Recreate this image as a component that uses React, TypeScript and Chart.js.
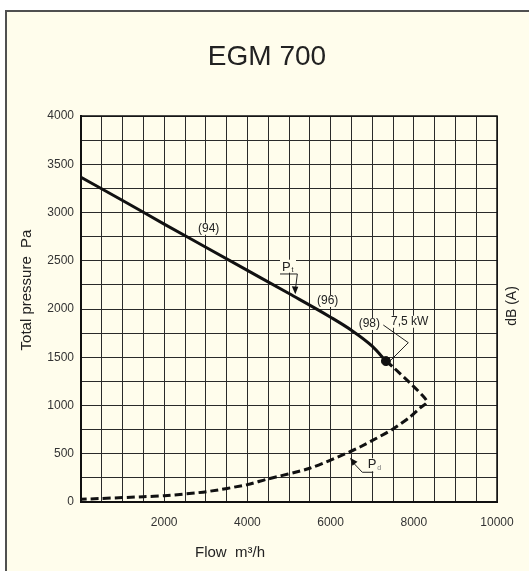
import React, { useEffect, useRef } from "react";
import { Chart, registerables } from "chart.js";

Chart.register(...registerables);

const TITLE = "EGM 700";
const X_TITLE = "Flow  m³/h";
const Y_TITLE = "Total pressure  Pa";
const Y2_TITLE = "dB (A)";

// Total pressure curve P_t (flow m3/h, pressure Pa)
const ptFlow = [0, 1000, 2000, 3000, 4000, 5000, 6000, 6500, 7000, 7330];
const ptPressure = [3365, 3125, 2880, 2640, 2400, 2160, 1915, 1780, 1615, 1460];

// Dynamic pressure curve P_d (drawn in order, turns back at the tip)
const pdFlow = [7330, 7500, 7909, 8197, 8317, 8149, 7909, 7500, 7115, 6707, 6466, 5500, 4460, 4000, 3020, 2010, 1500, 0];
const pdPressure = [1460, 1399, 1233, 1110, 1036, 974, 881, 756, 663, 570, 521, 350, 235, 180, 107, 65, 55, 28];

// Motor limit point (7,5 kW)
const motorPoint = { x: 7330, y: 1460 };

// Sound level labels along P_t
const soundLabels = ["(94)", "(96)", "(98)"];
const soundFlow = [3069, 5930, 6931];
const soundPressure = [2832, 2083, 1845];
const motorLabel = "7,5 kW";

const FONT = '"Liberation Sans", Arial, sans-serif';
const TEXT = "#222";
const BG = "#FFFDEC";

const annotations = {
  id: "annotations",
  afterDatasetsDraw(chart: any) {
    const { ctx, scales } = chart;
    const X = (v: number) => scales.x.getPixelForValue(v);
    const Y = (v: number) => scales.y.getPixelForValue(v);
    ctx.save();
    ctx.fillStyle = TEXT;
    ctx.strokeStyle = "#222";
    ctx.font = `12px ${FONT}`;
    ctx.textAlign = "center";
    ctx.textBaseline = "middle";
    soundLabels.forEach((t, i) => {
      const x = X(soundFlow[i]);
      const y = Y(soundPressure[i]);
      const w = ctx.measureText(t).width;
      ctx.fillStyle = BG;
      ctx.fillRect(x - w / 2 - 1, y - 6, w + 2, 12);
      ctx.fillStyle = TEXT;
      ctx.fillText(t, x, y);
    });
    // 7,5 kW
    ctx.textAlign = "left";
    {
      const x = X(7452), y = Y(1868);
      const w = ctx.measureText(motorLabel).width;
      ctx.fillStyle = BG;
      ctx.fillRect(x - 1, y - 6, w + 2, 12);
      ctx.fillStyle = TEXT;
      ctx.fillText(motorLabel, x, y);
    }
    // bracket
    ctx.lineWidth = 1;
    ctx.beginPath();
    ctx.moveTo(X(7267), Y(1834));
    ctx.lineTo(X(7868), Y(1651));
    ctx.lineTo(X(7428), Y(1461));
    ctx.stroke();

    // P_t label
    ctx.textBaseline = "alphabetic";
    {
      const px = X(4832), py = Y(2397);
      ctx.fillStyle = BG;
      ctx.fillRect(px - 2, py - 11, 16, 13);
      ctx.fillStyle = TEXT;
      ctx.font = `13px ${FONT}`;
      ctx.fillText("P", px, py);
      ctx.font = `7px ${FONT}`;
      ctx.fillText("t", px + 9.5, py + 1);
      ctx.beginPath();
      ctx.moveTo(X(4784), Y(2363));
      ctx.lineTo(X(5200), Y(2363));
      ctx.lineTo(X(5160), Y(2220));
      ctx.stroke();
      const tx = X(5151), ty = Y(2152);
      ctx.beginPath();
      ctx.moveTo(tx, ty);
      ctx.lineTo(tx - 3.5, ty - 8);
      ctx.lineTo(tx + 3, ty - 7.5);
      ctx.closePath();
      ctx.fillStyle = "#111";
      ctx.fill();
    }
    // P_d label
    {
      const px = X(6892), py = Y(349);
      ctx.fillStyle = BG;
      ctx.fillRect(px - 1, py - 10, 16, 13);
      ctx.fillStyle = TEXT;
      ctx.font = `13px ${FONT}`;
      ctx.fillText("P", px, py);
      ctx.font = `7px ${FONT}`;
      ctx.fillStyle = "#777";
      ctx.fillText("d", px + 9.5, py + 2);
      ctx.beginPath();
      ctx.moveTo(X(7026), Y(308));
      ctx.lineTo(X(6762), Y(308));
      ctx.lineTo(X(6560), Y(400));
      ctx.stroke();
      const tx = X(6466), ty = Y(459);
      ctx.beginPath();
      ctx.moveTo(tx, ty);
      ctx.lineTo(tx + 2.5, ty + 8);
      ctx.lineTo(tx + 7.5, ty + 4);
      ctx.closePath();
      ctx.fillStyle = "#111";
      ctx.fill();
    }
    ctx.restore();
  },
  afterDraw(chart: any) {
    const { ctx, chartArea } = chart;
    ctx.save();
    // plot frame
    ctx.strokeStyle = "#111";
    ctx.lineWidth = 1.5;
    ctx.strokeRect(chartArea.left, chartArea.top, chartArea.right - chartArea.left, chartArea.bottom - chartArea.top);
    ctx.fillStyle = TEXT;
    ctx.textAlign = "center";
    ctx.textBaseline = "alphabetic";
    ctx.font = `28px ${FONT}`;
    ctx.fillText(TITLE, 267, 65);
    ctx.font = `15px ${FONT}`;
    ctx.textAlign = "left";
    ctx.fillText(X_TITLE, 195, 557);
    ctx.textAlign = "center";
    ctx.textBaseline = "middle";
    ctx.save();
    ctx.translate(27, 290);
    ctx.rotate(-Math.PI / 2);
    ctx.fillText(Y_TITLE, 0, 0);
    ctx.restore();
    ctx.save();
    ctx.translate(512, 306);
    ctx.rotate(-Math.PI / 2);
    ctx.font = `14px ${FONT}`;
    ctx.fillText(Y2_TITLE, 0, 0);
    ctx.restore();
    ctx.restore();
  },
};

export default function App() {
  const ref = useRef<HTMLCanvasElement | null>(null);
  useEffect(() => {
    if (!ref.current) return;
    const chart = new Chart(ref.current, {
      type: "line",
      data: {
        datasets: [
          {
            label: "Pt",
            data: ptFlow.map((x, i) => ({ x, y: ptPressure[i] })),
            borderColor: "#111",
            borderWidth: 3,
            pointRadius: 0,
            cubicInterpolationMode: "monotone",
            fill: false,
          },
          {
            label: "Pd",
            data: pdFlow.map((x, i) => ({ x, y: pdPressure[i] })),
            borderColor: "#111",
            borderWidth: 3,
            borderDash: [8, 4],
            pointRadius: 0,
            tension: 0.25,
            fill: false,
          },
          {
            label: "motor",
            data: [motorPoint],
            borderColor: "#111",
            backgroundColor: "#111",
            pointRadius: 4.5,
            showLine: false,
          },
        ],
      },
      options: {
        responsive: false,
        animation: false,
        layout: { padding: { top: 116, right: 32, bottom: 0, left: 0 } },
        plugins: { legend: { display: false }, tooltip: { enabled: false }, title: { display: false } },
        scales: {
          x: {
            type: "linear",
            min: 0,
            max: 10000,
            ticks: {
              stepSize: 500,
              autoSkip: false,
              maxRotation: 0,
              padding: 13,
              color: "#333",
              font: { size: 12, family: FONT },
              callback: (v: any) => (v > 0 && v % 2000 === 0 ? String(v) : ""),
            },
            grid: { color: "#2a2a2a", lineWidth: 1, drawTicks: false },
            border: { color: "#111", width: 2 },
            afterFit: (s: any) => {
              s.height = 69;
            },
          },
          y: {
            min: 0,
            max: 4000,
            ticks: {
              stepSize: 250,
              autoSkip: false,
              padding: 7,
              color: "#333",
              font: { size: 12, family: FONT },
              callback: (v: any) => (v % 500 === 0 ? String(v) : ""),
            },
            grid: { color: "#2a2a2a", lineWidth: 1, drawTicks: false },
            border: { color: "#111", width: 2 },
            afterFit: (s: any) => {
              s.width = 81;
            },
          },
        },
      },
      plugins: [annotations],
    } as any);
    return () => chart.destroy();
  }, []);
  return (
    <div style={{ position: "absolute", left: 0, top: 0, width: 529, height: 571, overflow: "hidden", background: "#fff" }}>
      <div
        style={{
          position: "absolute",
          left: 5,
          top: 10,
          width: 600,
          height: 600,
          border: "2px solid #505050",
          background: BG,
        }}
      />
      <canvas ref={ref} width={529} height={571} style={{ position: "absolute", left: 0, top: 0, width: 529, height: 571 }} />
    </div>
  );
}
